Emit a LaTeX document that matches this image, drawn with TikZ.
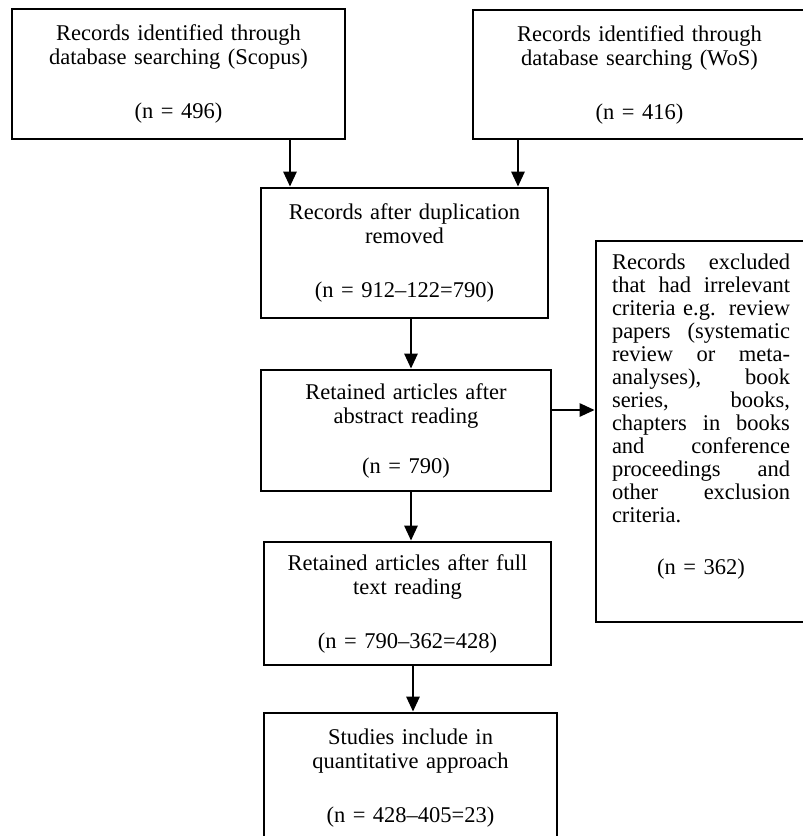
\documentclass[tikz,border=0pt]{standalone}
\usepackage{fontspec}
\setmainfont{Liberation Serif}
\usetikzlibrary{arrows.meta}
\newcommand\jline[1]{\leavevmode\hbox to 178pt{#1}}
\begin{document}
\begin{tikzpicture}[x=1pt,y=-1pt,
  box/.style={draw, line width=2.7pt, inner sep=0pt, align=center,
    font=\fontsize{22.5}{24}\selectfont},
  sidebox/.style={draw, line width=2.7pt, inner sep=0pt},
  sidetext/.style={inner sep=0pt, align=left, text width=178pt,
    font=\fontsize{22.5}{23}\selectfont},
  arr/.style={line width=2.7pt, -{Triangle[length=15pt,width=13pt]}}]
\useasboundingbox (0,0) rectangle (803,836);
\clip (0,0) rectangle (803,836);
\node[box, minimum width=333pt, minimum height=130pt, text width=323pt] (scopus) at (178.5,74)
  {Records identified through\\database searching (Scopus)\\[30pt](n = 496)};
\node[box, minimum width=333pt, minimum height=129pt, text width=323pt] (wos) at (639.5,74.5)
  {Records identified through\\database searching (WoS)\\[30pt](n = 416)};
\node[box, minimum width=287pt, minimum height=130pt, text width=277pt] (dup) at (404.5,253)
  {Records after duplication\\removed\\[30pt](n = 912–122=790)};
\node[box, minimum width=290pt, minimum height=121pt, text width=280pt] (abs) at (406,430.5)
  {Retained articles after\\abstract reading\\[26pt](n = 790)};
\node[sidebox, minimum width=210pt, minimum height=381pt] (excl) at (701,431.5) {};
\node[sidetext, anchor=north] (excltext) at ([yshift=-14pt]excl.north)
  {\jline{Records\hfill excluded}\\
   \jline{that\hfill had\hfill irrelevant}\\
   \jline{criteria e.g.\hfill review}\\
   \jline{papers\hfill (systematic}\\
   \jline{review\hfill or\hfill meta-}\\
   \jline{analyses),\hfill book}\\
   \jline{series,\hfill books,}\\
   \jline{chapters\hfill in\hfill books}\\
   \jline{and\hfill conference}\\
   \jline{proceedings\hfill and}\\
   \jline{other\hfill exclusion}\\
   \jline{criteria.\hfill}\\[29pt]
   \jline{\hfill(n = 362)\hfill}};
\node[box, minimum width=287pt, minimum height=123pt, text width=277pt] (full) at (407.5,603.5)
  {Retained articles after full\\text reading\\[30pt](n = 790–362=428)};
\node[box, minimum width=293pt, minimum height=130pt, text width=283pt] (incl) at (410.5,778)
  {Studies include in\\quantitative approach\\[30pt](n = 428–405=23)};
\coordinate (c1) at (290,0);
\coordinate (c2) at (518,0);
\coordinate (c3) at (411,0);
\coordinate (c4) at (413,0);
\coordinate (c5) at (0,410);
\draw[arr] (scopus.south -| c1) -- (dup.north -| c1);
\draw[arr] (wos.south -| c2) -- (dup.north -| c2);
\draw[arr] (dup.south -| c3) -- (abs.north -| c3);
\draw[arr] (abs.south -| c3) -- (full.north -| c3);
\draw[arr] (full.south -| c4) -- (incl.north -| c4);
\draw[arr] (abs.east |- c5) -- (excl.west |- c5);
\end{tikzpicture}
\end{document}
